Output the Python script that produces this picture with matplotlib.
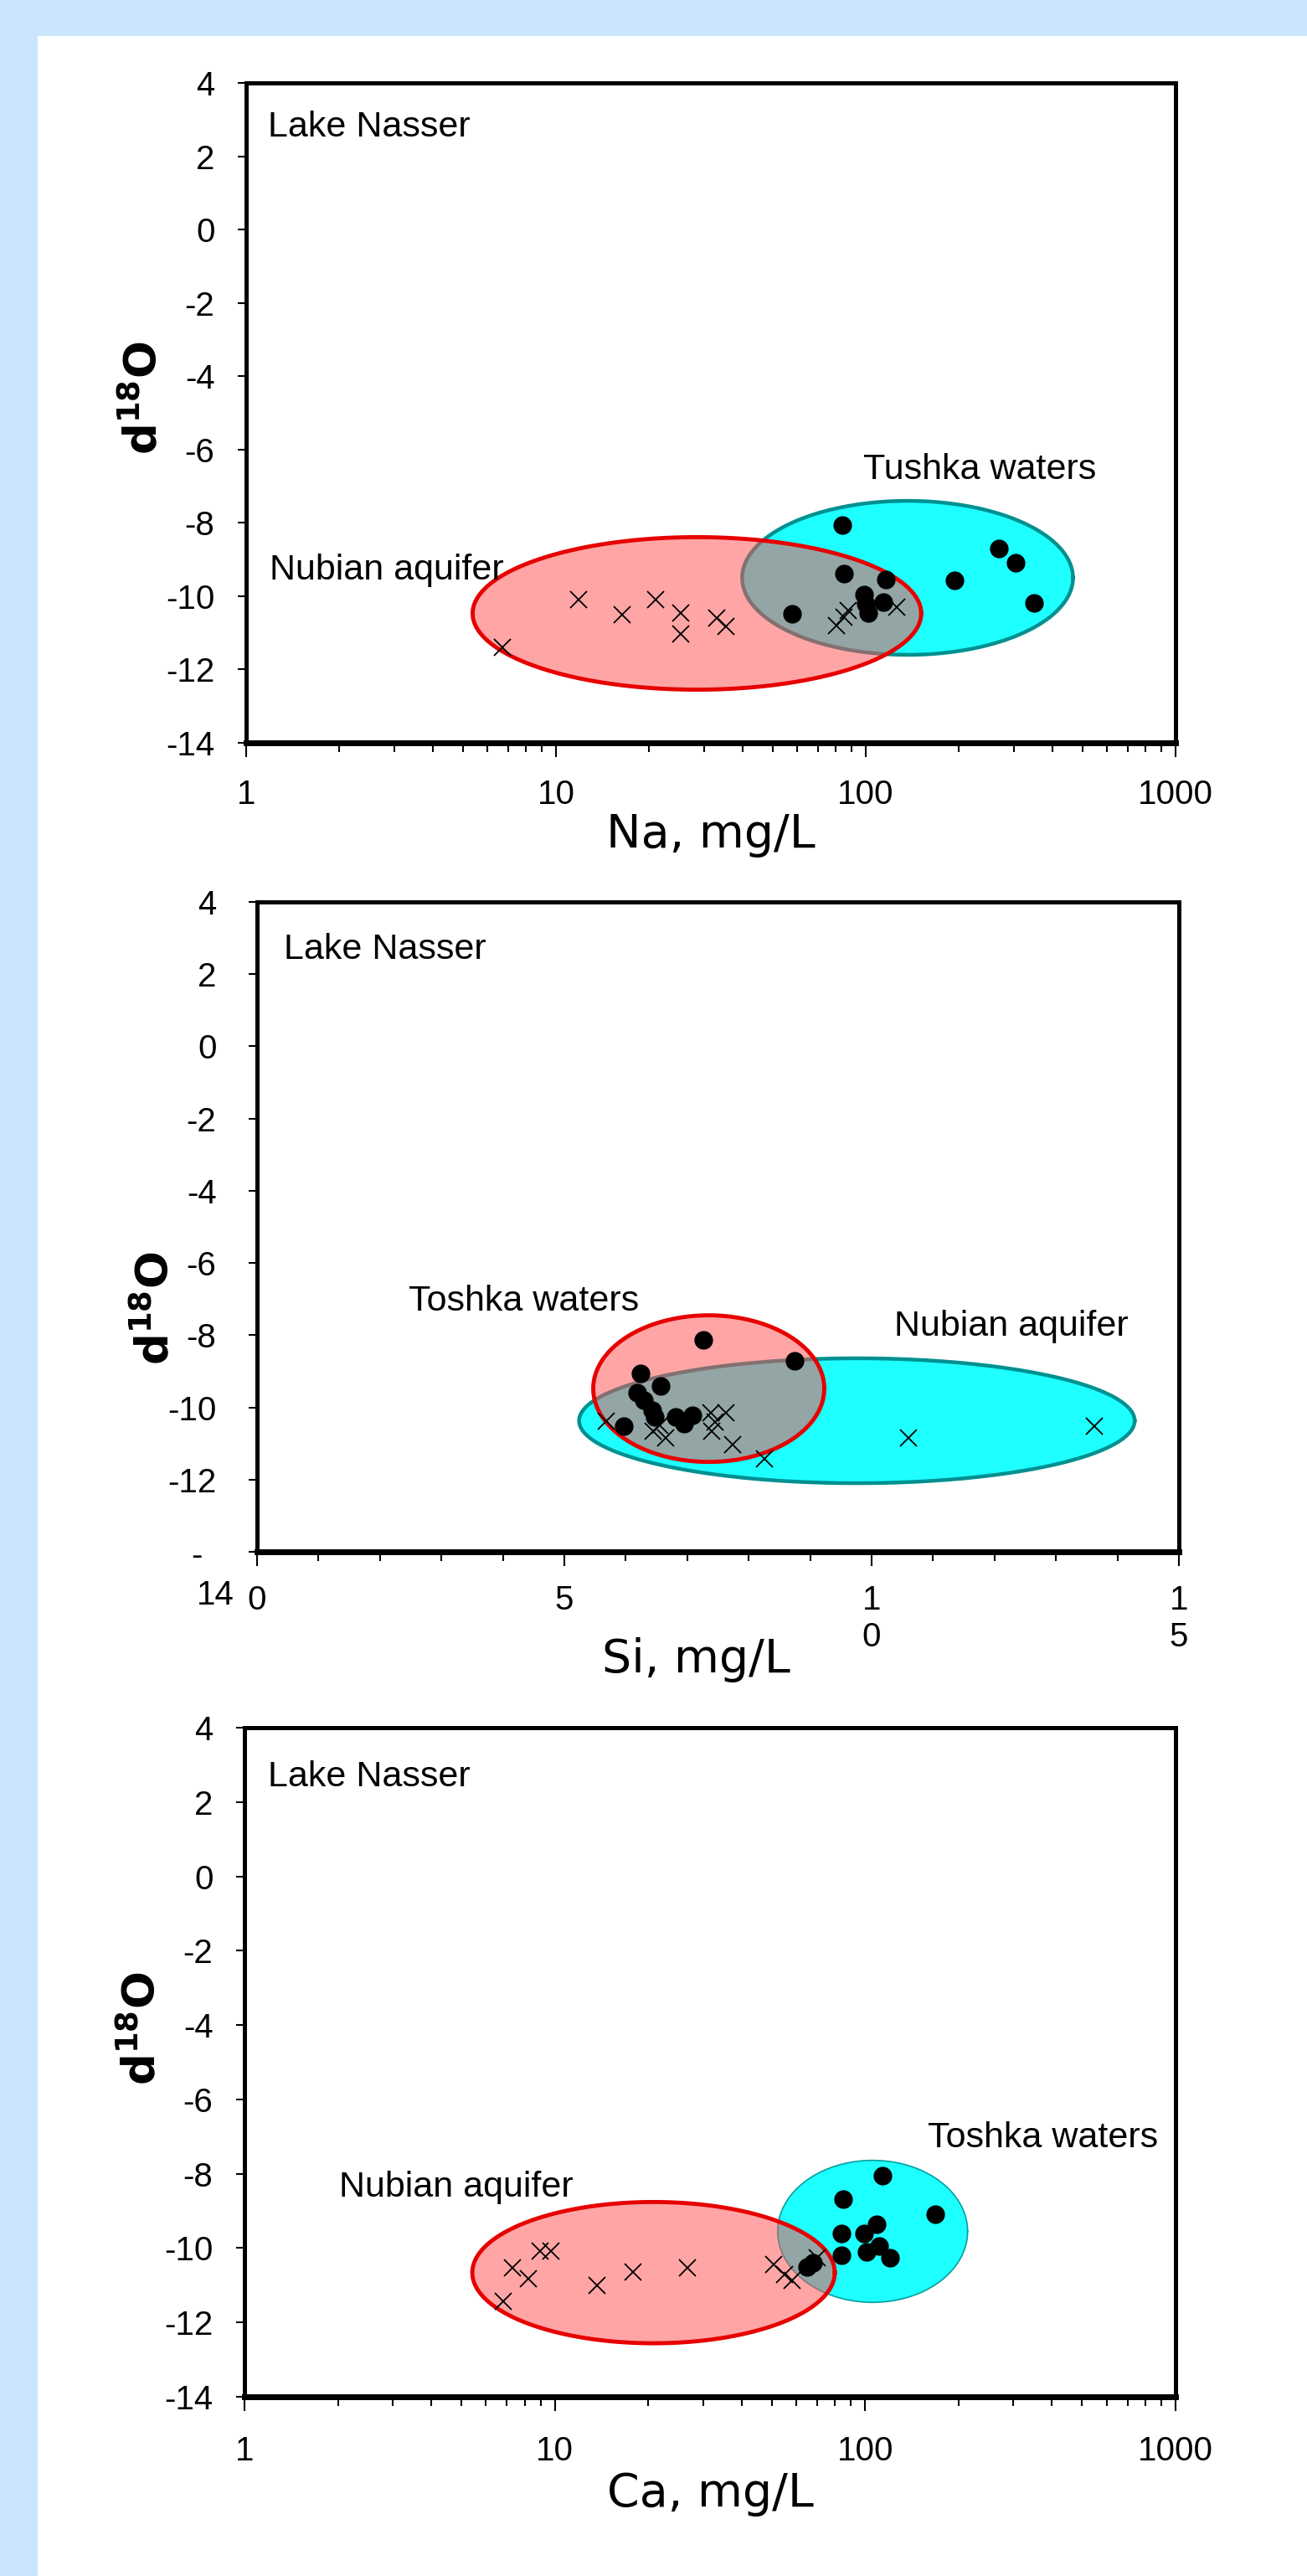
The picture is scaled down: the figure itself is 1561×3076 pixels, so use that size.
import matplotlib
matplotlib.use('Agg')
import matplotlib.pyplot as plt
import numpy as np
from matplotlib.patches import Rectangle

# d18O vs Na (log x)
na_nubian = [6.7, 11.8, 16.3, 21.0, 25.3, 25.3, 33.0, 35.4, 80.4, 85, 88, 126]
d18o_na_nubian = [-11.4, -10.1, -10.5, -10.1, -10.47, -11.02, -10.6, -10.82, -10.8, -10.57, -10.4, -10.29]
na_toshka = [84, 85, 116, 193, 99, 100, 102, 114, 58, 269, 304, 349]
d18o_na_toshka = [-8.07, -9.38, -9.55, -9.57, -9.95, -10.2, -10.45, -10.16, -10.48, -8.71, -9.09, -10.18]

# d18O vs Si (linear x)
si_toshka = [7.26, 8.74, 6.24, 6.56, 6.18, 6.3, 6.43, 6.47, 6.81, 6.95, 7.08, 5.97]
d18o_si_toshka = [-8.12, -8.71, -9.06, -9.41, -9.60, -9.8, -10.07, -10.26, -10.26, -10.45, -10.22, -10.52]
si_nubian = [5.68, 6.45, 6.55, 6.65, 7.38, 7.45, 7.63, 7.40, 7.74, 8.26, 10.6, 13.62]
d18o_si_nubian = [-10.38, -10.65, -10.5, -10.84, -10.15, -10.4, -10.15, -10.65, -11.03, -11.42, -10.84, -10.53]

# d18O vs Ca (log x)
ca_nubian = [6.8, 7.3, 8.2, 8.95, 9.7, 13.7, 17.9, 26.8, 50.7, 55, 58, 70]
d18o_ca_nubian = [-11.43, -10.52, -10.83, -10.07, -10.07, -11.01, -10.64, -10.52, -10.45, -10.7, -10.86, -10.26]
ca_toshka = [114, 85, 168, 109, 99, 84, 111, 101, 120, 84, 65, 68]
d18o_ca_toshka = [-8.05, -8.69, -9.10, -9.36, -9.6, -9.6, -9.95, -10.1, -10.25, -10.2, -10.5, -10.4]

y_ticks = [4, 2, 0, -2, -4, -6, -8, -10, -12, -14]
log_ticks = [1, 10, 100, 1000]
log_labels = ['1', '10', '100', '1000']
si_ticks = [0, 5, 10, 15]
si_labels = ['0', '5', '1\n0', '1\n5']

NARROW = ['Liberation Sans Narrow', 'Liberation Sans', 'DejaVu Sans']
RED_FILL = (1.0, 0.33, 0.33, 0.52)
CYAN = '#1effff'
TEAL = '#009090'

W, H = 1561, 3076
fig = plt.figure(figsize=(W / 100, H / 100), dpi=100, facecolor='#cce5ff')
fig.patches.append(Rectangle((45 / W, 0), 1, 1 - 43 / H, transform=fig.transFigure,
                             facecolor='white', edgecolor='none', zorder=-5))


def make_axes(left, top, right, bottom):
    return fig.add_axes([left / W, 1 - bottom / H, (right - left) / W, (bottom - top) / H])


def ellipse(ax, cx, cy, rx, ry, logx, face, edge, lw, z):
    t = np.linspace(0, 2 * np.pi, 300)
    u = cx + rx * np.cos(t)
    v = cy + ry * np.sin(t)
    x = 10 ** u if logx else u
    ax.fill(x, v, facecolor=face, edgecolor='none', zorder=z)
    ax.plot(x, v, color=edge, lw=lw, zorder=z + 0.5)


def style(ax, ypad, xpad):
    for s in ['left', 'top', 'right']:
        ax.spines[s].set_linewidth(3.6)
    ax.spines['bottom'].set_linewidth(5)
    ax.set_ylim(-14, 4)
    ax.set_yticks(y_ticks)
    ax.tick_params(axis='y', direction='out', length=7, width=1.5, pad=ypad)
    ax.tick_params(axis='x', which='major', direction='out', length=12, width=1.5, pad=xpad)
    ax.tick_params(axis='x', which='minor', direction='out', length=8, width=1.5)
    for lab in ax.get_xticklabels() + ax.get_yticklabels():
        lab.set_family(NARROW)
        lab.set_fontsize(29)


def notes(ax, items):
    for txt, x, y in items:
        ax.text(x, y, txt, transform=ax.transAxes, fontsize=31, family=NARROW,
                va='baseline', ha='left')


def ylab(ax, y):
    ax.set_ylabel('d$^{\\mathregular{18}}$O', fontsize=38, fontweight='bold')
    ax.yaxis.set_label_coords(-0.086, y)


# ---- panel 1: Na ----
ax1 = make_axes(294, 99, 1404, 887)
ax1.set_xscale('log')
ax1.set_xlim(1, 1000)
ax1.set_xticks(log_ticks)
ax1.set_xticklabels(log_labels)
ax1.set_yticklabels([str(v) for v in y_ticks])
ellipse(ax1, 2.135, -9.5, 0.534, 2.1, True, CYAN, TEAL, 3.2, 1)
ellipse(ax1, 1.455, -10.47, 0.724, 2.08, True, RED_FILL, '#e60000', 3.5, 2)
ax1.plot(na_nubian, d18o_na_nubian, 'x', color='black', ms=15, mew=1.3, zorder=5)
ax1.plot(na_toshka, d18o_na_toshka, 'o', color='black', ms=15, zorder=6)
style(ax1, 20, 19)
notes(ax1, [('Lake Nasser', 0.023, 0.919), ('Tushka waters', 0.664, 0.40),
            ('Nubian aquifer', 0.025, 0.2475)])
ax1.set_xlabel('Na, mg/L', fontsize=40)
ax1.xaxis.set_label_coords(0.5, -0.105)
ylab(ax1, 0.523)

# ---- panel 2: Si ----
ax2 = make_axes(307, 1077, 1408, 1853)
ax2.set_xlim(0, 15)
ax2.set_xticks(si_ticks)
ax2.set_xticklabels(si_labels)
ax2.set_xticks(range(0, 16), minor=True)
ax2.set_yticklabels([str(v) for v in y_ticks[:-1]] + [''])
ellipse(ax2, 9.76, -10.37, 4.52, 1.73, False, CYAN, TEAL, 3.2, 1)
ellipse(ax2, 7.35, -9.48, 1.88, 2.03, False, RED_FILL, '#e60000', 3.5, 2)
ax2.plot(si_nubian, d18o_si_nubian, 'x', color='black', ms=15, mew=1.3, zorder=5)
ax2.plot(si_toshka, d18o_si_toshka, 'o', color='black', ms=15, zorder=6)
style(ax2, 28, 16)
ax2.text(-0.065, -0.006, '-', transform=ax2.transAxes, fontsize=29, family=NARROW,
         ha='center', va='center')
ax2.text(-0.045, -0.067, '14', transform=ax2.transAxes, fontsize=29, family=NARROW,
         ha='center', va='center')
notes(ax2, [('Lake Nasser', 0.029, 0.912), ('Toshka waters', 0.164, 0.371),
            ('Nubian aquifer', 0.691, 0.3325)])
ax2.set_xlabel('Si, mg/L', fontsize=40)
ax2.xaxis.set_label_coords(0.476, -0.132)
ylab(ax2, 0.375)

# ---- panel 3: Ca ----
ax3 = make_axes(292, 2063, 1404, 2862)
ax3.set_xscale('log')
ax3.set_xlim(1, 1000)
ax3.set_xticks(log_ticks)
ax3.set_xticklabels(log_labels)
ax3.set_yticklabels([str(v) for v in y_ticks])
ellipse(ax3, 2.024, -9.55, 0.306, 1.91, True, CYAN, '#00a0a0', 1.2, 1)
ellipse(ax3, 1.318, -10.66, 0.584, 1.9, True, RED_FILL, '#e60000', 3.5, 2)
ax3.plot(ca_nubian, d18o_ca_nubian, 'x', color='black', ms=15, mew=1.3, zorder=5)
ax3.plot(ca_toshka, d18o_ca_toshka, 'o', color='black', ms=15, zorder=6)
style(ax3, 20, 21)
notes(ax3, [('Lake Nasser', 0.025, 0.913), ('Toshka waters', 0.734, 0.373),
            ('Nubian aquifer', 0.102, 0.299)])
ax3.set_xlabel('Ca, mg/L', fontsize=40)
ax3.xaxis.set_label_coords(0.5, -0.112)
ylab(ax3, 0.55)

fig.savefig('out.png', dpi=100, facecolor=fig.get_facecolor())
